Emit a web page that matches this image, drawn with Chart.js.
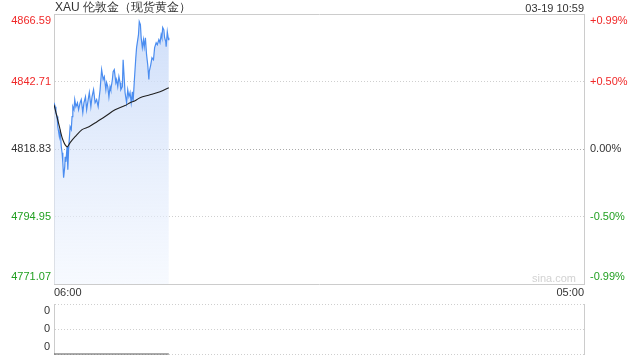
<!DOCTYPE html>
<html>
<head>
<meta charset="utf-8">
<script src="https://cdn.jsdelivr.net/npm/chart.js@4/dist/chart.umd.min.js"></script>
<style>
html, body { margin: 0; padding: 0; background: #fff; }
#wrap { position: relative; width: 640px; height: 360px; font-family: "Liberation Sans", Arial, sans-serif; }
#title { position: absolute; left: 55px; top: 0; font-size: 12px; line-height: 14px; color: #333; }
#stamp { position: absolute; right: 56px; top: 1px; font-size: 11px; line-height: 14px; color: #333; }
#mark { position: absolute; left: 532px; top: 272px; font-size: 11px; line-height: 13px; color: #d2d2d2; }
#main { position: absolute; left: 0; top: 0; }
#vol { position: absolute; left: 0; top: 300px; }
</style>
</head>
<body>
<div id="wrap">
    <canvas id="main" width="640" height="300"></canvas>
    <canvas id="vol" width="640" height="60"></canvas>
    <div id="title">XAU 伦敦金（现货黄金）</div>
    <div id="stamp">03-19 10:59</div>
    <div id="mark">sina.com</div>
</div>
<script>
// session is 06:00 -> 05:00 next day, x in minutes from open
const sessionMinutes = 1380;
const timeLabels = ['06:00', '05:00'];
const prevClose = 4818.83;
const priceTicks = [4771.07, 4794.95, 4818.83, 4842.71, 4866.59];

const priceMinutes = [0, 3, 5, 8, 10, 14, 16, 19, 21, 23, 25, 28, 29, 31, 34, 36, 38, 42, 45, 47, 49, 52, 54, 57, 61, 64, 68, 71, 75, 78,
    82, 85, 89, 92, 96, 99, 103, 107, 111, 115, 120, 124, 128, 131, 135, 137, 140, 143, 146, 148, 152, 154, 157, 161, 163, 166, 169, 172, 174, 178,
    180, 183, 185, 189, 192, 195, 198, 201, 204, 206, 209, 213, 215, 220, 222, 225, 227, 230, 233, 235, 238, 241, 244, 247, 248, 252, 255, 259, 262, 266,
    269, 273, 276, 279, 281, 283, 286, 288, 291, 292, 295, 298, 299];
const prices = [4835.2, 4833.8, 4831.7, 4830.3, 4826.7, 4823.2, 4825.7, 4819.6, 4817.5, 4814.0, 4808.7, 4812.6, 4816.1, 4814.3, 4819.6, 4811.5, 4818.6, 4826.7, 4825.7, 4830.3, 4833.8, 4832.7, 4836.3, 4833.8, 4835.2, 4832.7, 4835.2, 4836.3, 4831.7, 4835.2,
    4837.3, 4832.7, 4836.3, 4838.8, 4833.8, 4837.3, 4839.8, 4835.2, 4836.3, 4833.8, 4839.8, 4846.9, 4843.4, 4844.4, 4839.8, 4842.3, 4840.9, 4837.3, 4840.9, 4839.8, 4843.4, 4846.2, 4846.9, 4842.3, 4843.4, 4840.9, 4844.4, 4842.3, 4839.8, 4840.9,
    4850.4, 4843.4, 4838.8, 4835.2, 4839.8, 4837.3, 4838.8, 4835.2, 4839.1, 4835.6, 4842.6, 4851.1, 4854.7, 4859.3, 4863.9, 4862.8, 4858.2, 4854.7, 4857.5, 4855.0, 4858.2, 4852.2, 4848.7, 4843.4, 4846.2, 4848.7, 4851.1, 4850.4, 4854.7, 4856.4,
    4855.7, 4857.5, 4856.4, 4859.3, 4858.2, 4861.8, 4861.0, 4858.2, 4856.8, 4855.0, 4860.3, 4857.5, 4858.2];

const avgMinutes = [0, 13, 23, 34, 42, 55, 73, 91, 112, 133, 159, 185, 198, 211, 224, 250, 276, 299];
const avgPrices = [4834.5, 4827.4, 4822.1, 4819.6, 4821.1, 4823.2, 4825.7, 4826.7, 4828.5, 4830.3, 4832.7, 4834.2, 4835.2, 4835.9, 4837.0, 4838.0, 4839.1, 4840.5];

const volumeMinutes = [0, 299];
const volumes = [0, 0];
const volTicks = [0, 0.5, 1];
const volTickLabels = ['0', '0', '0'];

const RED = '#f02828';
const GREEN = '#22a022';
const TEXT = '#333333';
const EDGE = '#cccccc';
const tickFont = { family: '"Liberation Sans", Arial, sans-serif', size: 11 };

function toPoints(xs, ys) {
    return xs.map(function(x, i) { return { x: x, y: ys[i] }; });
}

function priceColor(value) {
    if (Math.abs(value - prevClose) < 0.001) return TEXT;
    return value > prevClose ? RED : GREEN;
}

// put the edge labels inside the plot, like the original
function edgeLabel(text, index, count) {
    if (index === count - 1) return ['', text];
    if (index === 0) return [text, ''];
    return text;
}

function setTicks(values) {
    return function(scale) {
        scale.ticks = values.map(function(v) { return { value: v }; });
    };
}

// fixed axis size, and no extra label padding pushed into the layout
function fixWidth(w) {
    return function(scale) {
        scale.width = w;
        scale.paddingTop = 0;
        scale.paddingBottom = 0;
    };
}

function fixHeight(h) {
    return function(scale) {
        scale.height = h;
        scale.paddingLeft = 0;
        scale.paddingRight = 0;
    };
}

const mainChart = new Chart(document.getElementById('main'), {
    type: 'line',
    data: {
        datasets: [{
            data: toPoints(priceMinutes, prices),
            order: 2,
            borderColor: '#4b8df0',
            borderWidth: 1.2,
            pointRadius: 0,
            tension: 0,
            fill: 'start',
            backgroundColor: function(ctx) {
                const area = ctx.chart.chartArea;
                if (!area) return 'rgba(200,218,248,0.6)';
                const g = ctx.chart.ctx.createLinearGradient(0, area.top, 0, area.bottom);
                g.addColorStop(0, 'rgba(196,215,248,0.85)');
                g.addColorStop(1, 'rgba(238,244,254,0.5)');
                return g;
            }
        }, {
            data: toPoints(avgMinutes, avgPrices),
            order: 1,
            borderColor: '#222222',
            borderWidth: 1.1,
            pointRadius: 0,
            tension: 0.3,
            fill: false
        }]
    },
    options: {
        responsive: false,
        animation: false,
        events: [],
        layout: { padding: { top: 14, left: 0, right: 0, bottom: 0 } },
        plugins: { legend: { display: false }, tooltip: { enabled: false } },
        scales: {
            x: {
                type: 'linear',
                position: 'bottom',
                min: 0,
                max: sessionMinutes,
                afterBuildTicks: setTicks([0, sessionMinutes]),
                afterFit: fixHeight(16),
                grid: { display: false, drawTicks: false },
                border: { color: EDGE },
                ticks: {
                    align: 'inner',
                    padding: 2,
                    color: TEXT,
                    font: tickFont,
                    maxRotation: 0,
                    autoSkip: false,
                    callback: function(v, i) { return timeLabels[i]; }
                }
            },
            xTop: {
                type: 'linear',
                position: 'top',
                min: 0,
                max: sessionMinutes,
                afterFit: fixHeight(0),
                grid: { display: false, drawTicks: false },
                border: { color: EDGE },
                ticks: { display: false }
            },
            y: {
                position: 'left',
                min: priceTicks[0],
                max: priceTicks[priceTicks.length - 1],
                afterBuildTicks: setTicks(priceTicks),
                afterFit: fixWidth(54),
                grid: {
                    drawTicks: false,
                    color: function(ctx) {
                        const v = ctx.tick ? ctx.tick.value : null;
                        if (v === priceTicks[0] || v === priceTicks[priceTicks.length - 1]) return 'rgba(0,0,0,0)';
                        return v === prevClose ? '#aaaaaa' : '#cfcfcf';
                    }
                },
                border: { color: EDGE, dash: [1, 2] },
                ticks: {
                    padding: 3,
                    font: tickFont,
                    autoSkip: false,
                    color: function(ctx) { return priceColor(ctx.tick.value); },
                    callback: function(v, i, ticks) { return edgeLabel(v.toFixed(2), i, ticks.length); }
                }
            },
            yPct: {
                position: 'right',
                min: priceTicks[0],
                max: priceTicks[priceTicks.length - 1],
                afterBuildTicks: setTicks(priceTicks),
                afterFit: fixWidth(56),
                grid: { display: false, drawTicks: false },
                border: { color: EDGE },
                ticks: {
                    padding: 6,
                    font: tickFont,
                    autoSkip: false,
                    color: function(ctx) { return priceColor(ctx.tick.value); },
                    callback: function(v, i, ticks) {
                        const pct = (v / prevClose - 1) * 100;
                        let s = Math.abs(pct).toFixed(2) + '%';
                        if (pct > 0.001) s = '+' + s;
                        else if (pct < -0.001) s = '-' + s;
                        return edgeLabel(s, i, ticks.length);
                    }
                }
            }
        }
    }
});

const volChart = new Chart(document.getElementById('vol'), {
    type: 'line',
    data: {
        datasets: [{
            data: toPoints(volumeMinutes, volumes),
            borderColor: '#555555',
            borderWidth: 1,
            pointRadius: 0,
            clip: false,
            fill: false
        }]
    },
    options: {
        responsive: false,
        animation: false,
        events: [],
        layout: { padding: { top: 4, left: 0, right: 0, bottom: 6 } },
        plugins: { legend: { display: false }, tooltip: { enabled: false } },
        scales: {
            x: { type: 'linear', display: false, min: 0, max: sessionMinutes },
            y: {
                position: 'left',
                min: 0,
                max: 1,
                afterBuildTicks: setTicks(volTicks),
                afterFit: fixWidth(54),
                grid: { drawTicks: false, color: '#cfcfcf' },
                border: { color: EDGE, dash: [1, 2] },
                ticks: {
                    padding: 4,
                    font: tickFont,
                    color: TEXT,
                    autoSkip: false,
                    callback: function(v, i, ticks) { return edgeLabel(volTickLabels[i], i, ticks.length); }
                }
            },
            yR: {
                position: 'right',
                min: 0,
                max: 1,
                afterFit: fixWidth(56),
                grid: { display: false, drawTicks: false },
                border: { color: EDGE },
                ticks: { display: false }
            }
        }
    }
});
</script>
</body>
</html>
